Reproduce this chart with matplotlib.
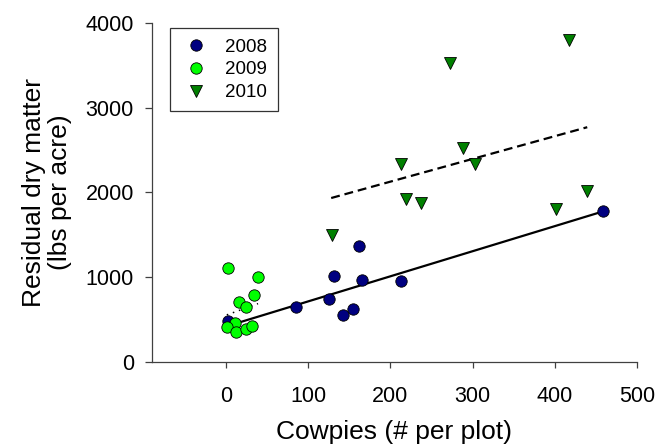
import matplotlib
matplotlib.use("Agg")
import matplotlib.pyplot as plt

plt.rcParams["font.family"] = ["Liberation Sans", "DejaVu Sans"]

# cowpies (# per plot) vs residual dry matter (lbs per acre)
x_2008 = [2.8, 85.6, 125, 131.8, 142.3, 154.5, 161.4, 165.5, 212.5, 459]
y_2008 = [478, 643, 737, 1012, 549, 620, 1369, 961, 956, 1776]

x_2009 = [2.8, 39.3, 34.4, 15.4, 24.7, 11, 1.6, 12.2, 24, 31.6]
y_2009 = [1109, 1000, 788, 706, 643, 463, 408, 353, 392, 427]

x_2010 = [128.6, 212.5, 218.6, 237.6, 272.5, 288.7, 302.5, 401.5, 417.6, 438.8]
y_2010 = [1500, 2337, 1918, 1878, 3521, 2521, 2337, 1800, 3800, 2012]

# regression line end points
fit_2008_x = [15, 459]
fit_2008_y = [463, 1776]
fit_2009_x = [1, 39]
fit_2009_y = [555, 688]
fit_2010_x = [128, 439.5]
fit_2010_y = [1933, 2768]

xticks = [0, 100, 200, 300, 400, 500]
yticks = [0, 1000, 2000, 3000, 4000]

fig = plt.figure(figsize=(6.56, 4.47), dpi=100)
ax = fig.add_axes([0.2317, 0.1902, 0.7393, 0.7590])

ax.plot(fit_2008_x, fit_2008_y, color="black", lw=1.6, zorder=2)
ax.plot(fit_2010_x, fit_2010_y, color="black", lw=1.6, dashes=(4, 2.2), zorder=2)
ax.plot(fit_2009_x, fit_2009_y, color="black", lw=1.1, dashes=(1, 3.2), zorder=2)

ms = 8.2
ax.plot(x_2008, y_2008, "o", ms=ms, mfc="#000080", mec="black", mew=0.6,
        label="2008", zorder=3)
ax.plot(x_2009, y_2009, "o", ms=ms, mfc="#00ff00", mec="black", mew=0.6,
        label="2009", zorder=4)
ax.plot(x_2010, y_2010, "v", ms=8.6, mfc="#008000", mec="black", mew=0.6,
        label="2010", zorder=5)

ax.set_xlim(-90, 500)
ax.set_ylim(0, 4000)
ax.set_xticks(xticks)
ax.set_yticks(yticks)

for side in ["top", "right"]:
    ax.spines[side].set_visible(False)
for side in ["left", "bottom"]:
    ax.spines[side].set_color("#404040")
    ax.spines[side].set_linewidth(0.9)

ax.tick_params(axis="x", direction="out", length=4, width=0.9,
               color="#404040", labelsize=15.5, pad=13)
ax.tick_params(axis="y", direction="out", length=5, width=0.9,
               color="#404040", labelsize=15.5, pad=8)

ax.set_xlabel("Cowpies (# per plot)", fontsize=19)
ax.set_ylabel("Residual dry matter\n(lbs per acre)", fontsize=19,
              linespacing=1.1)
ax.xaxis.set_label_coords(0.5, -0.17)
ax.yaxis.set_label_coords(-0.165, 0.5)

leg = ax.legend(loc="upper left", bbox_to_anchor=(0.037, 0.984),
                borderaxespad=0, fontsize=13.5, frameon=True, fancybox=False,
                handletextpad=0.7, borderpad=0.55, labelspacing=0.3,
                handlelength=1.7)
leg.get_frame().set_edgecolor("black")
leg.get_frame().set_linewidth(0.9)

fig.savefig("out.png", dpi=100)
